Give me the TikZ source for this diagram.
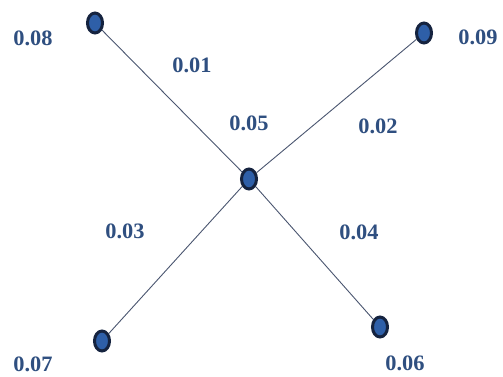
\documentclass[tikz,border=0pt]{standalone}
\usepackage{fontspec}
\setmainfont{Liberation Serif}
\usetikzlibrary{shapes.geometric}
\definecolor{nodefill}{HTML}{2E5FA8}
\definecolor{nodeedge}{HTML}{15233F}
\definecolor{lbl}{HTML}{2F4F80}
\definecolor{edgec}{HTML}{4A5670}
\tikzset{
  vtx/.style={ellipse,draw=nodeedge,fill=nodefill,line width=3pt,minimum width=15pt,minimum height=20pt,inner sep=0pt},
  wlbl/.style={text=lbl,font=\fontsize{20}{20}\selectfont\bfseries,inner sep=0pt,xscale=1.12,yscale=1.1},
  con/.style={draw=edgec,line width=0.9pt}
}
\begin{document}
\begin{tikzpicture}[x=1pt,y=-1pt]
\useasboundingbox[fill=white] (0,0) rectangle (503,377);
\node[vtx] (c) at (249,179) {};
\node[vtx] (tl) at (95,23) {};
\node[vtx] (tr) at (424,33) {};
\node[vtx] (bl) at (102,341) {};
\node[vtx] (br) at (380,327) {};
\draw[con] (tl) -- (c);
\draw[con] (c) -- (tr);
\draw[con] (c) -- (bl);
\draw[con] (c) -- (br);
\node[wlbl] (l08) at (33,38) {0.08};
\node[wlbl] (l01) at (192,65) {0.01};
\node[wlbl] (l09) at (478,37) {0.09};
\node[wlbl] (l05) at (249,123) {0.05};
\node[wlbl] (l02) at (378,126) {0.02};
\node[wlbl] (l03) at (125,231) {0.03};
\node[wlbl] (l04) at (359,232) {0.04};
\node[wlbl] (l07) at (33,364) {0.07};
\node[wlbl] (l06) at (405,363) {0.06};
\end{tikzpicture}
\end{document}
